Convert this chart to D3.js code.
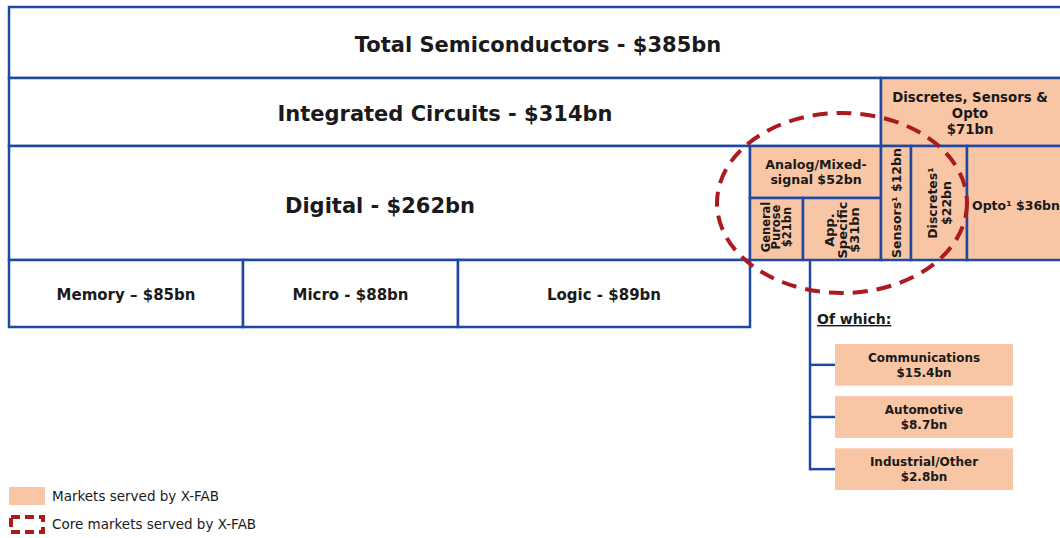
<!DOCTYPE html>
<html>
<meta charset="utf-8">
<title>Semiconductor market</title>
<style>
    body { margin: 0; background: #fff; }
    text { font-family: "DejaVu Sans", Verdana, sans-serif; fill: #1a1a1a; }
    .box { stroke: #2148a0; stroke-width: 2.5px; }
    .b { font-weight: bold; }
</style>
<script src="https://cdn.jsdelivr.net/npm/d3@7/dist/d3.min.js"></script>
<body>
<script>
    // market sizes, $bn
    const levelNames = ["Total Semiconductors", "Integrated Circuits", "Digital"]
    const levelValues = [385, 314, 262]

    const digitalNames = ["Memory", "Micro", "Logic"]
    const digitalValues = [85, 88, 89]

    const analogNames = ["Analog/Mixed-signal", "General Purose", "App. Specific"]
    const analogValues = [52, 21, 31]

    const dsoNames = ["Discretes, Sensors & Opto", "Sensors", "Discretes", "Opto"]
    const dsoValues = [71, 12, 22, 36]

    const endNames = ["Communications", "Automotive", "Industrial/Other"]
    const endValues = [15.4, 8.7, 2.8]

    const legendLabels = ["Markets served by X-FAB", "Core markets served by X-FAB"]

    // layout grid (pixel edges of the diagram)
    const x = d3.scaleOrdinal()
        .domain(["left", "mem", "micro", "logic", "gp", "sens", "disc", "opto", "right"])
        .range([9, 243, 458, 750, 803, 881, 911, 967, 1066])
    const y = d3.scaleOrdinal()
        .domain(["top", "ic", "dig", "sub", "gpTop", "bot"])
        .range([7, 78, 146, 260, 198, 327])

    const peach = "#f9c6a5"
    const svg = d3.select("body").append("svg").attr("width", 1060).attr("height", 538)

    function box(x0, y0, x1, y1, fill) {
        return svg.append("rect").attr("class", "box")
            .attr("x", x0).attr("y", y0).attr("width", x1 - x0).attr("height", y1 - y0)
            .attr("fill", fill)
    }
    function label(lines, cx, cy, size, rotate, lh) {
        lh = lh || size * 1.15
        const t = svg.append("text").attr("class", "b")
            .attr("text-anchor", "middle")
            .attr("font-size", size)
            .attr("transform", `translate(${cx},${cy})` + (rotate ? " rotate(-90)" : ""))
        lines.forEach((l, i) => {
            t.append("tspan").attr("x", 0)
                .attr("y", (i - (lines.length - 1) / 2) * lh + size * 0.36)
                .text(l)
        })
        return t
    }
    const fmt = v => "$" + v + "bn"

    // hierarchy rows
    box(x("left"), y("top"), x("right"), y("ic"), "#fff")
    label([`${levelNames[0]} - ${fmt(levelValues[0])}`], 538, 44, 21)
    box(x("left"), y("ic"), x("sens"), y("dig"), "#fff")
    label([`${levelNames[1]} - ${fmt(levelValues[1])}`], 445, 113, 21)
    box(x("left"), y("dig"), x("logic"), y("sub"), "#fff")
    label([`${levelNames[2]} - ${fmt(levelValues[2])}`], 380, 205, 21)

    // digital split
    const dEdges = [x("left"), x("mem"), x("micro"), x("logic")]
    digitalNames.forEach((n, i) => {
        box(dEdges[i], y("sub"), dEdges[i + 1], y("bot"), "#fff")
        label([`${n} ${i == 0 ? "–" : "-"} ${fmt(digitalValues[i])}`], (dEdges[i] + dEdges[i + 1]) / 2, 295, 15)
    })

    // analog
    box(x("logic"), y("dig"), x("sens"), y("gpTop"), peach)
    label(["Analog/Mixed-", "signal " + fmt(analogValues[0])], 816, 172, 12.6)
    box(x("logic"), y("gpTop"), x("gp"), y("sub"), peach)
    label(["General", "Purose", fmt(analogValues[1])], 776, 227, 11.5, true, 10.5)
    box(x("gp"), y("gpTop"), x("sens"), y("sub"), peach)
    label(["App.", "Specific", fmt(analogValues[2])], 842, 230, 13, true, 12.5)

    // discretes, sensors & opto
    box(x("sens"), y("ic"), x("right"), y("dig"), peach)
    label(["Discretes, Sensors &", "Opto", fmt(dsoValues[0])], 970, 113, 13.3, false, 16)
    box(x("sens"), y("dig"), x("disc"), y("sub"), peach)
    label(["Sensors\u00b9 " + fmt(dsoValues[1])], 896, 203, 12.5, true)
    box(x("disc"), y("dig"), x("opto"), y("sub"), peach)
    label(["Discretes\u00b9", fmt(dsoValues[2])], 939, 203, 12.5, true, 14)
    box(x("opto"), y("dig"), x("right"), y("sub"), peach)
    label(["Opto\u00b9 " + fmt(dsoValues[3])], 1016, 205, 12.5)

    // end markets of analog
    const ey = d3.scaleBand().domain(endNames).range([344, 490]).paddingInner(0.2).paddingOuter(0)
    const trunkX = 810
    svg.append("line").attr("class", "box")
        .attr("x1", trunkX).attr("x2", trunkX)
        .attr("y1", y("sub")).attr("y2", ey(endNames[2]) + ey.bandwidth() / 2 + 1.25)
    svg.append("text").attr("class", "b").attr("x", 817).attr("y", 324)
        .attr("font-size", 14).attr("text-decoration", "underline").text("Of which:")
    endNames.forEach((n, i) => {
        const cy = ey(n) + ey.bandwidth() / 2
        svg.append("line").attr("class", "box")
            .attr("x1", trunkX).attr("x2", 835).attr("y1", cy).attr("y2", cy)
        svg.append("rect").attr("x", 835).attr("y", ey(n))
            .attr("width", 178).attr("height", ey.bandwidth()).attr("fill", peach)
        label([n, fmt(endValues[i])], 924, cy, 12, false, 15)
    })

    // core markets ellipse
    const red = "#ab1a1f"
    svg.append("ellipse").attr("cx", 842).attr("cy", 203).attr("rx", 125).attr("ry", 90)
        .attr("fill", "none").attr("stroke", red).attr("stroke-width", 4)
        .attr("stroke-dasharray", "15 9")

    // legend
    svg.append("rect").attr("x", 9).attr("y", 487).attr("width", 36).attr("height", 18).attr("fill", peach)
    svg.append("rect").attr("x", 11).attr("y", 517).attr("width", 32).attr("height", 15)
        .attr("fill", "none").attr("stroke", red).attr("stroke-width", 4).attr("stroke-dasharray", "9 5")
    legendLabels.forEach((l, i) => {
        svg.append("text").attr("x", 52).attr("y", 501 + i * 28).attr("font-size", 13.5).text(l)
    })
</script>
</body>
</html>
